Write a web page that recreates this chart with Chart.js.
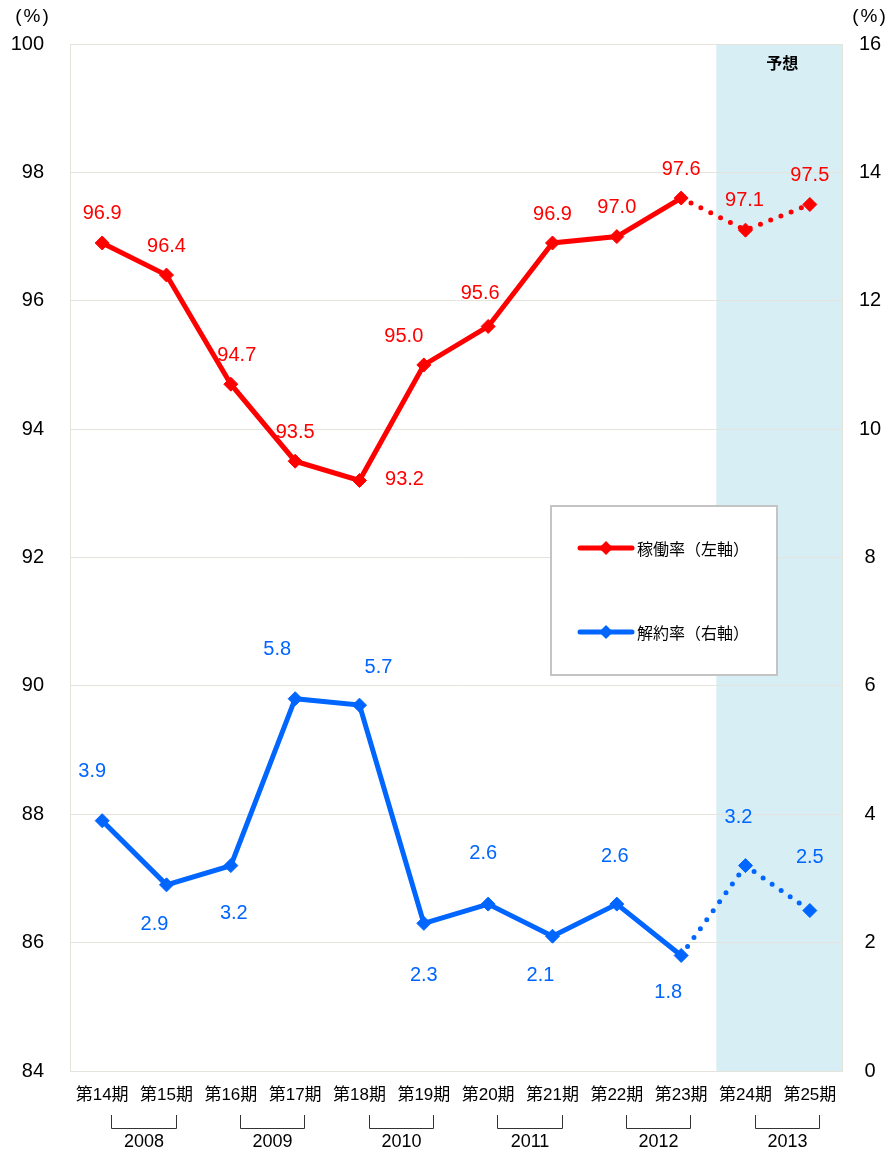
<!DOCTYPE html>
<html>
<head>
<meta charset="utf-8">
<script src="https://cdn.jsdelivr.net/npm/chart.js@4"></script>
<style>
html,body{margin:0;padding:0;background:#fff;}
#wrap{width:893px;height:1150px;position:relative;}
</style>
</head>
<body>
<div id="wrap"><canvas id="c" width="893" height="1150"></canvas></div>
<script>
const categories = ['第14期','第15期','第16期','第17期','第18期','第19期','第20期','第21期','第22期','第23期','第24期','第25期'];
const years = ['2008','2009','2010','2011','2012','2013'];
const occupancy = [96.9, 96.4, 94.7, 93.5, 93.2, 95.0, 95.6, 96.9, 97.0, 97.6, 97.1, 97.5];
const cancellation = [3.9, 2.9, 3.2, 5.8, 5.7, 2.3, 2.6, 2.1, 2.6, 1.8, 3.2, 2.5];
const seriesNames = ['稼働率（左軸）', '解約率（右軸）'];
const forecastStart = 10; // index of first forecast period
const forecastLabel = '予想';

// label offsets (styling, px relative to point)
const redOffsets = [[0,-29],[0,-29],[6,-29],[0,-29],[45,-1],[-20,-28],[-8,-33],[0,-28],[0,-29],[0,-29],[-1,-30],[0,-29]];
const blueOffsets = [[-10,-49],[-12,40],[3,48],[-18,-49],[19,-38],[0,52],[-5,-51],[-12,39],[-2,-48],[-13,37],[-7,-48],[0,-53]];

const RED = '#ff0000';
const BLUE = '#0066ff';
const GRID = '#e4e4dc';
const LATIN = '"Liberation Sans", Arial, sans-serif';
const CJK = '"Liberation Sans", "Noto Sans CJK JP", sans-serif';

const dashed = ctx => ctx.p0DataIndex >= forecastStart - 1 ? [0, 11] : undefined;
const capStyle = ctx => ctx.p0DataIndex >= forecastStart - 1 ? 'round' : 'butt';

const decor = {
  id: 'decor',
  beforeDraw(chart) {
    const {ctx, chartArea} = chart;
    const xs = chart.scales.x;
    const x0 = xs.getPixelForValue(forecastStart - 0.5) + 3;
    ctx.save();
    ctx.fillStyle = 'rgb(214,238,244)';
    ctx.fillRect(x0, chartArea.top, chartArea.right - x0, chartArea.bottom - chartArea.top);
    ctx.restore();
  },
  afterDraw(chart) {
    const {ctx, chartArea} = chart;
    const xs = chart.scales.x;
    const x0 = xs.getPixelForValue(forecastStart - 0.5) + 3;
    ctx.save();
    // forecast label
    ctx.fillStyle = '#000';
    ctx.font = 'bold 16px "Noto Sans CJK JP", sans-serif';
    ctx.textAlign = 'center';
    ctx.textBaseline = 'middle';
    ctx.fillText(forecastLabel, (x0 + chartArea.right) / 2 + 3, 63);
    // unit labels
    ctx.font = '19px ' + LATIN;
    ctx.letterSpacing = '2px';
    ctx.fillText('(%)', 33, 17);
    ctx.fillText('(%)', 870, 17);
    ctx.letterSpacing = '0px';

    // data labels
    const drawLabels = (dsIndex, values, offs, color) => {
      const meta = chart.getDatasetMeta(dsIndex);
      ctx.fillStyle = color;
      ctx.font = '20px ' + LATIN;
      ctx.textAlign = 'center';
      ctx.textBaseline = 'middle';
      meta.data.forEach((pt, i) => {
        ctx.fillText(values[i].toFixed(1), pt.x + offs[i][0], pt.y + offs[i][1]);
      });
    };
    drawLabels(0, occupancy, redOffsets, RED);
    drawLabels(1, cancellation, blueOffsets, BLUE);

    // year brackets
    ctx.strokeStyle = '#333';
    ctx.lineWidth = 1;
    ctx.fillStyle = '#000';
    ctx.font = '18px ' + LATIN;
    years.forEach((y, i) => {
      const a = Math.round(xs.getPixelForValue(2 * i) + 9) + 0.5;
      const b = Math.round(xs.getPixelForValue(2 * i + 1) + 9) + 0.5;
      ctx.beginPath();
      ctx.moveTo(a, 1115);
      ctx.lineTo(a, 1128.5);
      ctx.lineTo(b, 1128.5);
      ctx.lineTo(b, 1115);
      ctx.stroke();
      ctx.fillText(y, (a + b) / 2, 1142);
    });

    // legend
    const lx = 551, ly = 506, lw = 226, lh = 169;
    ctx.fillStyle = '#fff';
    ctx.fillRect(lx, ly, lw, lh);
    ctx.strokeStyle = '#c4c4c4';
    ctx.lineWidth = 2;
    ctx.strokeRect(lx, ly, lw, lh);
    const entry = (dsIndex, yy) => {
      const ds = chart.data.datasets[dsIndex];
      ctx.strokeStyle = ds.borderColor;
      ctx.lineWidth = 5;
      ctx.lineCap = 'round';
      ctx.beginPath();
      ctx.moveTo(580, yy);
      ctx.lineTo(632, yy);
      ctx.stroke();
      ctx.fillStyle = ds.borderColor;
      ctx.beginPath();
      ctx.moveTo(606, yy - 7);
      ctx.lineTo(613, yy);
      ctx.lineTo(606, yy + 7);
      ctx.lineTo(599, yy);
      ctx.closePath();
      ctx.fill();
      ctx.fillStyle = '#000';
      ctx.font = '16px "Noto Sans CJK JP", sans-serif';
      ctx.textAlign = 'left';
      ctx.textBaseline = 'middle';
      ctx.fillText(ds.label, 637, yy + 1);
    };
    entry(0, 548);
    entry(1, 632);
    ctx.restore();
  }
};

new Chart(document.getElementById('c'), {
  type: 'line',
  data: {
    labels: categories,
    datasets: [
      {
        label: seriesNames[0],
        data: occupancy,
        yAxisID: 'y',
        borderColor: RED,
        backgroundColor: RED,
        borderWidth: 5,
        pointStyle: 'rectRot',
        pointRadius: 7,
        pointBorderWidth: 1,
        pointBackgroundColor: RED,
        pointBorderColor: RED,
        tension: 0,
        segment: { borderDash: dashed, borderCapStyle: capStyle }
      },
      {
        label: seriesNames[1],
        data: cancellation,
        yAxisID: 'y1',
        borderColor: BLUE,
        backgroundColor: BLUE,
        borderWidth: 5,
        pointStyle: 'rectRot',
        pointRadius: 7,
        pointBorderWidth: 1,
        pointBackgroundColor: BLUE,
        pointBorderColor: BLUE,
        tension: 0,
        segment: { borderDash: dashed, borderCapStyle: capStyle }
      }
    ]
  },
  options: {
    responsive: false,
    animation: false,
    devicePixelRatio: 1,
    layout: { padding: { top: 44, left: 0, right: 0, bottom: 0 } },
    plugins: { legend: { display: false }, tooltip: { enabled: false } },
    scales: {
      x: {
        offset: true,
        grid: { display: false, drawTicks: false },
        border: { display: true, color: GRID, width: 1 },
        ticks: { color: '#000', font: { size: 17, family: CJK }, padding: 14, autoSkip: false, maxRotation: 0 },
        afterFit: s => { s.height = 79; }
      },
      y: {
        position: 'left',
        min: 84, max: 100,
        grid: { color: GRID, drawTicks: false },
        border: { display: true, color: GRID, width: 1 },
        ticks: { stepSize: 2, color: '#000', font: { size: 20, family: LATIN }, padding: 26 },
        afterFit: s => { s.width = 70; }
      },
      y1: {
        position: 'right',
        min: 0, max: 16,
        grid: { drawOnChartArea: false, drawTicks: false },
        border: { display: true, color: GRID, width: 1 },
        ticks: { stepSize: 2, color: '#000', font: { size: 20, family: LATIN }, padding: 17, crossAlign: 'center' },
        afterFit: s => { s.width = 51; }
      }
    }
  },
  plugins: [decor]
});
</script>
</body>
</html>
